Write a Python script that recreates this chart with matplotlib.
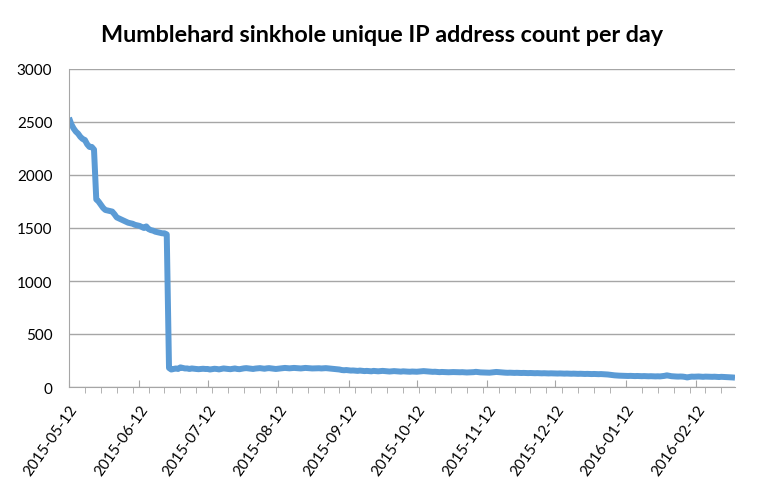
import numpy as np
import pandas as pd
import matplotlib
matplotlib.use("Agg")
import matplotlib.pyplot as plt
import matplotlib.dates as mdates
from matplotlib.ticker import FixedLocator

plt.rcParams["font.family"] = ["Lato", "DejaVu Sans"]

title = "Mumblehard sinkhole unique IP address count per day"
start = "2015-05-12"

# daily counts, one list per month starting on the 12th
m_may = [2540, 2480, 2440, 2410, 2390, 2360, 2340, 2330, 2290, 2265, 2265, 2240, 1770, 1750, 1720, 1690,
         1670, 1665, 1660, 1655, 1630, 1600, 1590, 1580, 1570, 1560, 1550, 1545, 1540, 1530, 1525]
m_jun = [1520, 1510, 1500, 1515, 1490, 1480, 1475, 1465, 1460, 1455, 1450, 1450, 1440, 180, 165,
         170, 175, 170, 185, 180, 175, 175, 170, 175, 172, 170, 168, 170, 172, 170]
m_jul = [170, 165, 168, 172, 170, 166, 170, 175, 172, 170, 168, 172, 175, 170, 168, 172, 176, 178,
         175, 172, 170, 174, 176, 178, 175, 172, 176, 178, 175, 172, 170]
m_aug = [172, 175, 178, 180, 178, 176, 178, 180, 178, 176, 175, 178, 180, 178, 176, 175, 176, 178,
         177, 175, 176, 178, 176, 175, 172, 170, 168, 165, 160, 158, 160]
m_sep = [158, 155, 156, 154, 152, 155, 153, 150, 152, 150, 148, 152, 150, 148, 150, 152, 150, 148,
         146, 148, 150, 148, 146, 145, 148, 146, 145, 144, 146, 145]
m_oct = [144, 146, 148, 150, 148, 146, 145, 143, 144, 142, 140, 142, 141, 140, 139, 140, 141, 140,
         138, 139, 140, 138, 137, 138, 139, 140, 143, 140, 138, 137, 136]
m_nov = [136, 135, 137, 138, 142, 140, 137, 136, 135, 134, 135, 134, 133, 134, 133, 132, 133, 132,
         131, 132, 131, 130, 131, 130, 129, 130, 129, 128, 129, 128]
m_dec = [126, 127, 128, 127, 126, 127, 126, 125, 126, 125, 124, 125, 124, 123, 124, 123, 122, 123,
         122, 121, 122, 121, 120, 118, 115, 112, 110, 108, 107, 106, 105]
m_jan = [105, 104, 105, 104, 103, 104, 103, 102, 103, 102, 101, 102, 101, 100, 101, 100, 102, 105,
         110, 106, 102, 100, 99, 98, 99, 98, 95, 90, 95, 98, 97]
m_feb = [98, 99, 97, 96, 98, 97, 95, 96, 97, 95, 94, 96, 95, 93, 94, 92, 90, 88]

counts = m_may + m_jun + m_jul + m_aug + m_sep + m_oct + m_nov + m_dec + m_jan + m_feb
dates = pd.date_range(start, periods=len(counts), freq="D")

fig = plt.figure(figsize=(7.68, 4.89), dpi=100)
ax = fig.add_axes([69 / 768, 1 - 388 / 489, (735 - 69) / 768, (388 - 70) / 489])

ax.plot(dates, counts, color="#5B9BD5", lw=4.3, solid_joinstyle="round", solid_capstyle="butt")

ax.set_xlim(dates[0], dates[-1])
ax.set_ylim(0, 3000)
ax.set_yticks(np.arange(0, 3001, 500))
ax.yaxis.grid(True, color="#A6A6A6", lw=1)
ax.set_axisbelow(True)

ax.xaxis.set_major_locator(mdates.MonthLocator(bymonthday=12))
ax.xaxis.set_major_formatter(mdates.DateFormatter("%Y-%m-%d"))
weeks = pd.date_range(dates[0], dates[-1], freq="7D")
ax.xaxis.set_minor_locator(FixedLocator(mdates.date2num(weeks)))

for s in ["top", "right"]:
    ax.spines[s].set_visible(False)
for s in ["left", "bottom"]:
    ax.spines[s].set_color("#A6A6A6")

ax.tick_params(axis="y", length=0, pad=12, labelsize=11)
ax.tick_params(axis="x", which="major", direction="in", length=5, color="#A6A6A6", labelsize=11, pad=11)
ax.tick_params(axis="x", which="minor", direction="out", length=4, color="#A6A6A6")
for lab in ax.get_xticklabels():
    lab.set_rotation(55)
    lab.set_ha("right")
    lab.set_rotation_mode("anchor")

fig.text(382 / 768, 1 - 35 / 489, title, ha="center", va="center", fontsize=16.8, fontweight="bold")

fig.savefig("out.png", dpi=100)
